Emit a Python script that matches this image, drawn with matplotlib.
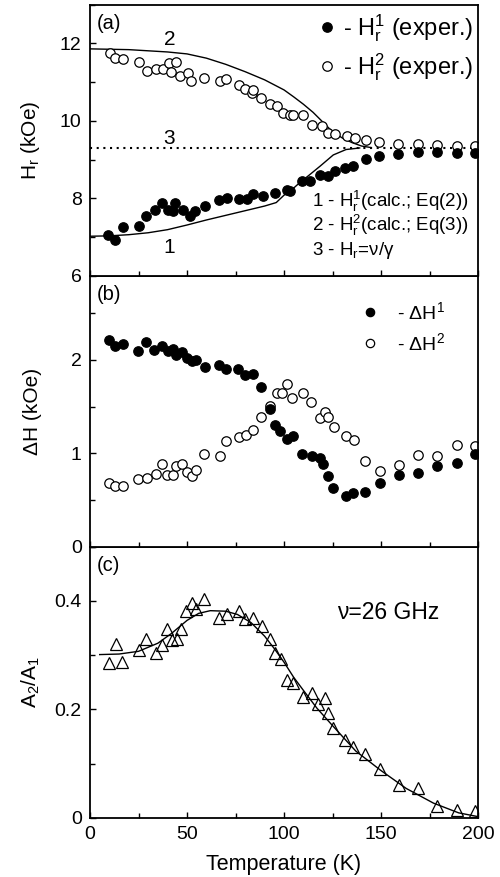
import numpy as np
import matplotlib
matplotlib.use("Agg")
import matplotlib.pyplot as plt
from matplotlib.ticker import MultipleLocator, FuncFormatter
from matplotlib.lines import Line2D

plt.rcParams['font.family'] = ['Liberation Sans', 'DejaVu Sans']
plt.rcParams['mathtext.fontset'] = 'custom'
plt.rcParams['mathtext.rm'] = 'Liberation Sans'
plt.rcParams['mathtext.it'] = 'Liberation Sans:italic'
plt.rcParams['mathtext.bf'] = 'Liberation Sans:bold'

# ---- panel (a): resonance fields, kOe ----
t_h2 = [10.3, 12.9, 17.2, 25.4, 29.5, 34.0, 37.5, 40.9, 41.8, 44.3, 46.4, 50.3, 52.0, 58.9,
        67.0, 70.1, 77.0, 79.9, 83.3, 84.2, 88.0, 92.8, 96.6, 99.3, 103.0, 104.8, 110.0,
        114.3, 119.4, 122.9, 126.3, 132.3, 136.6, 142.3, 149.1, 158.9, 169.2, 178.7, 189.0, 198.5]
h2_exp = [11.76, 11.63, 11.60, 11.53, 11.28, 11.33, 11.35, 11.50, 11.26, 11.52, 11.15, 11.24,
          11.04, 11.11, 11.02, 11.07, 10.92, 10.82, 10.72, 10.80, 10.58, 10.44, 10.38, 10.21,
          10.16, 10.16, 10.14, 9.90, 9.86, 9.69, 9.65, 9.62, 9.56, 9.50, 9.45, 9.41, 9.41,
          9.38, 9.36, 9.35]

t_h1 = [9.4, 12.9, 17.2, 25.0, 29.0, 33.5, 36.9, 40.4, 42.9, 43.8, 48.1, 51.7, 54.1, 59.3,
        66.4, 70.4, 76.8, 80.8, 84.2, 89.3, 95.4, 101.4, 103.0, 109.1, 113.4, 118.6, 122.8,
        126.3, 131.4, 135.7, 142.3, 149.1, 158.9, 169.2, 178.7, 189.0, 198.5]
h1_exp = [7.06, 6.91, 7.26, 7.28, 7.53, 7.71, 7.87, 7.71, 7.66, 7.89, 7.71, 7.53, 7.66, 7.81,
          7.95, 8.00, 7.97, 7.99, 8.10, 8.05, 8.14, 8.22, 8.18, 8.44, 8.44, 8.61, 8.57, 8.70,
          8.79, 8.83, 9.02, 9.10, 9.15, 9.19, 9.19, 9.17, 9.17]

t_calc1 = [0, 10, 20, 30, 40, 50, 60, 70, 80, 90, 96, 100, 104, 108, 113, 118.6, 125.4, 132, 139]
h1_calc = [7.02, 7.03, 7.06, 7.11, 7.19, 7.31, 7.44, 7.56, 7.68, 7.80, 7.89, 8.08, 8.22, 8.40,
           8.60, 8.83, 9.12, 9.26, 9.30]

t_calc2 = [0, 20, 40, 50, 60, 70, 80, 90, 100, 105, 110, 115, 120, 125, 130, 135, 140, 145]
h2_calc = [11.86, 11.84, 11.78, 11.73, 11.62, 11.46, 11.27, 11.06, 10.80, 10.62, 10.43, 10.22,
           9.97, 9.72, 9.56, 9.44, 9.35, 9.31]

h_res = 9.3  # line 3: H_r = nu/gamma

# ---- panel (b): linewidths, kOe ----
t_dh1 = [9.8, 12.9, 17.2, 24.8, 29.0, 33.0, 37.1, 40.0, 42.6, 44.2, 47.3, 49.8, 52.8, 54.5,
         59.5, 66.3, 70.2, 76.4, 79.9, 84.2, 88.2, 92.8, 95.4, 97.9, 101.6, 104.8, 109.5, 114.3,
         118.6, 120.3, 122.8, 125.4, 132.0, 135.7, 141.8, 149.5, 159.5, 169.2, 178.7, 189.0, 198.5]
dh1 = [2.21, 2.15, 2.17, 2.09, 2.19, 2.10, 2.15, 2.09, 2.12, 2.05, 2.08, 2.02, 1.99, 2.00,
       1.92, 1.95, 1.90, 1.90, 1.84, 1.85, 1.71, 1.47, 1.30, 1.24, 1.15, 1.18, 0.99, 0.97,
       0.95, 0.88, 0.76, 0.63, 0.54, 0.58, 0.59, 0.68, 0.77, 0.79, 0.86, 0.90, 0.99]

t_dh2 = [9.9, 12.9, 17.2, 24.9, 29.2, 34.0, 36.9, 39.9, 42.6, 44.1, 47.3, 49.8, 52.4, 54.6,
         58.9, 67.0, 70.1, 77.0, 80.4, 84.2, 88.0, 92.8, 96.2, 99.0, 101.7, 104.0, 110.0, 113.7,
         118.6, 121.1, 122.8, 125.8, 132.0, 136.1, 141.8, 149.5, 159.5, 169.2, 179.0, 189.0, 198.5]
dh2 = [0.68, 0.65, 0.65, 0.72, 0.74, 0.78, 0.88, 0.77, 0.77, 0.86, 0.89, 0.80, 0.76, 0.82,
       0.99, 0.97, 1.13, 1.17, 1.20, 1.25, 1.39, 1.51, 1.65, 1.64, 1.74, 1.59, 1.65, 1.55,
       1.38, 1.44, 1.39, 1.28, 1.18, 1.14, 0.92, 0.81, 0.87, 0.98, 0.97, 1.09, 1.08]

# ---- panel (c): amplitude ratio ----
t_ratio = [9.8, 13.2, 16.7, 25.4, 28.9, 34.0, 36.9, 39.9, 42.1, 45.0, 46.9, 49.5, 52.4, 54.6,
           58.9, 66.7, 70.4, 77.0, 79.9, 83.8, 88.5, 92.8, 95.4, 98.6, 101.4, 104.8, 110.0,
           114.3, 117.7, 121.1, 122.8, 125.4, 131.4, 135.7, 141.8, 149.5, 159.5, 169.2, 179.0,
           189.0, 198.5]
ratio = [0.286, 0.320, 0.287, 0.309, 0.330, 0.304, 0.318, 0.348, 0.327, 0.329, 0.348, 0.381,
         0.397, 0.386, 0.404, 0.369, 0.375, 0.381, 0.366, 0.369, 0.353, 0.330, 0.304, 0.292,
         0.254, 0.249, 0.223, 0.230, 0.209, 0.221, 0.193, 0.166, 0.143, 0.131, 0.117, 0.090,
         0.061, 0.054, 0.022, 0.014, 0.013]

t_fit = [5, 15, 25, 35, 42, 50, 56, 62, 70, 76, 83, 90, 95, 100, 105, 110, 117, 125, 137, 150,
         163, 177, 190, 200]
ratio_fit = [0.301, 0.302, 0.307, 0.322, 0.340, 0.364, 0.377, 0.382, 0.381, 0.375, 0.360,
             0.335, 0.312, 0.287, 0.259, 0.235, 0.202, 0.170, 0.123, 0.087, 0.054, 0.027,
             0.009, 0.002]

# ====================================================================
fig = plt.figure(figsize=(5, 8.77), dpi=100)
left, width, h = 0.18, 0.776, 0.309
ax_c = fig.add_axes([left, 0.0676, width, h])
ax_b = fig.add_axes([left, 0.0676 + h, width, h], sharex=ax_c)
ax_a = fig.add_axes([left, 0.0676 + 2 * h, width, h], sharex=ax_c)

ms = 6.8
open_kw = dict(ls='none', marker='o', ms=ms, mfc='white', mec='black', mew=0.9)
fill_kw = dict(ls='none', marker='o', ms=ms, mfc='black', mec='black', mew=0.9)

# (a)
ax_a.plot(t_calc2, h2_calc, color='black', lw=1.0)
ax_a.plot(t_calc1, h1_calc, color='black', lw=1.0)
ax_a.axhline(h_res, color='black', lw=1.5, ls=(0, (1, 2.2)))
ax_a.plot(t_h2, h2_exp, **open_kw)
ax_a.plot(t_h1, h1_exp, **fill_kw)
ax_a.set_ylim(6, 13)
ax_a.yaxis.set_major_locator(MultipleLocator(2))
ax_a.yaxis.set_minor_locator(MultipleLocator(1))
ax_a.set_ylabel(r'H$_\mathrm{r}$ (kOe)', fontsize=15)
ax_a.text(41, 12.1, '2', fontsize=15, ha='center', va='center')
ax_a.text(41, 9.55, '3', fontsize=15, ha='center', va='center')
ax_a.text(41, 6.72, '1', fontsize=15, ha='center', va='center')
ax_a.text(0.017, 0.965, '(a)', transform=ax_a.transAxes, fontsize=14.5, va='top')

hnd_a = [Line2D([], [], **fill_kw), Line2D([], [], **open_kw)]
ax_a.legend(hnd_a, [r'- H$_\mathrm{r}^\mathrm{1}$ (exper.)', r'- H$_\mathrm{r}^\mathrm{2}$ (exper.)'],
            loc='upper right', bbox_to_anchor=(1.025, 1.025), frameon=False, fontsize=17,
            handlelength=0.6, handletextpad=0.4, labelspacing=0.3, borderaxespad=0.2)
calc_lines = [r'1 - H$_\mathrm{r}^\mathrm{1}$(calc.; Eq(2))',
              r'2 - H$_\mathrm{r}^\mathrm{2}$(calc.; Eq(3))',
              r'3 - H$_\mathrm{r}$=ν/γ']
for i, s in enumerate(calc_lines):
    ax_a.text(0.571, 0.275 - i * 0.091, s, transform=ax_a.transAxes, fontsize=13.5, va='center')

# (b)
ax_b.plot(t_dh2, dh2, **open_kw)
ax_b.plot(t_dh1, dh1, **fill_kw)
ax_b.set_ylim(0, 2.9)
ax_b.yaxis.set_major_locator(MultipleLocator(1))
ax_b.yaxis.set_minor_locator(MultipleLocator(0.5))
ax_b.set_ylabel('ΔH (kOe)', fontsize=15)
ax_b.text(0.017, 0.965, '(b)', transform=ax_b.transAxes, fontsize=14.5, va='top')
hnd_b = [Line2D([], [], **dict(fill_kw, ms=6)), Line2D([], [], **dict(open_kw, ms=6))]
ax_b.legend(hnd_b, [r'- ΔH$^\mathrm{1}$', r'- ΔH$^\mathrm{2}$'], loc='upper right',
            bbox_to_anchor=(0.96, 0.97), frameon=False, fontsize=14, handlelength=1.0,
            handletextpad=0.9, labelspacing=0.45)

# (c)
ax_c.plot(t_fit, ratio_fit, color='black', lw=1.0)
ax_c.plot(t_ratio, ratio, ls='none', marker='^', ms=8.5, mfc='none', mec='black', mew=0.9)
ax_c.set_ylim(0, 0.5)
ax_c.yaxis.set_major_locator(MultipleLocator(0.2))
ax_c.yaxis.set_minor_locator(MultipleLocator(0.1))
ax_c.yaxis.set_major_formatter(FuncFormatter(lambda v, p: '0' if abs(v) < 1e-9 else f'{v:g}'))
ax_c.set_ylabel(r'A$_\mathrm{2}$/A$_\mathrm{1}$', fontsize=15)
ax_c.set_xlabel('Temperature (K)', fontsize=15.5)
ax_c.text(127.5, 0.379, 'ν=26 GHz', fontsize=16.5, va='center')
ax_c.text(0.017, 0.965, '(c)', transform=ax_c.transAxes, fontsize=14.5, va='top')

ax_c.set_xlim(0, 200)
ax_c.xaxis.set_major_locator(MultipleLocator(50))
ax_c.xaxis.set_minor_locator(MultipleLocator(25))

for ax in (ax_a, ax_b, ax_c):
    for sp in ax.spines.values():
        sp.set_linewidth(1.3)
    ax.tick_params(which='both', direction='in', top=False, right=False, width=1.0,
                   labelsize=14, pad=6)
    ax.tick_params(which='major', length=4.5)
    ax.tick_params(which='minor', length=3.5)
    ax.yaxis.set_label_coords(-0.125, 0.5)
for ax in (ax_a, ax_b):
    ax.tick_params(labelbottom=False)
ax_c.xaxis.set_label_coords(0.5, -0.135)

fig.savefig('out.png', dpi=100)
